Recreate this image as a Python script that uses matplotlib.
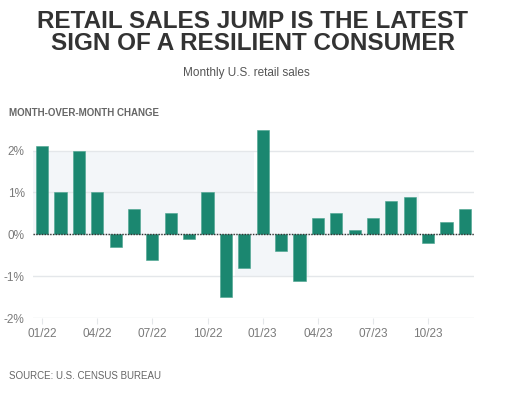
import numpy as np
import matplotlib.pyplot as plt

# monthly retail sales, month-over-month change (%)
months = ['01/22', '02/22', '03/22', '04/22', '05/22', '06/22', '07/22', '08/22',
          '09/22', '10/22', '11/22', '12/22', '01/23', '02/23', '03/23', '04/23',
          '05/23', '06/23', '07/23', '08/23', '09/23', '10/23', '11/23', '12/23']
change = [2.1, 1.0, 2.0, 1.0, -0.3, 0.6, -0.6, 0.5, -0.1, 1.0, -1.5, -0.8,
          2.5, -0.4, -1.1, 0.4, 0.5, 0.1, 0.4, 0.8, 0.9, -0.2, 0.3, 0.6]
tick_every = 3
yticks = [-2, -1, 0, 1, 2]
ytick_labels = ['-2%', '-1%', '0%', '1%', '2%']

# faint background bands (start month, end month, low, high)
bands = [(-0.5, 11.5, 0, 2), (10.5, 14.5, -1, 0), (11.5, 20.5, 0, 1)]

bar_color = '#1b8770'
grid_color = '#e4e7ea'
label_color = '#7a7a7a'

plt.rcParams['font.family'] = ['Liberation Sans', 'DejaVu Sans']

fig = plt.figure(figsize=(5.06, 3.93), dpi=100)
ax = fig.add_axes([0.065, 0.19, 0.872, 0.491])

x = np.arange(len(months))

for x0, x1, lo, hi in bands:
    ax.fill_between([x0, x1], lo, hi, color='#f3f6f9', lw=0, zorder=0)

for y in yticks:
    ax.axhline(y, color=grid_color, lw=1, zorder=1)

ax.bar(x, change, width=0.66, color=bar_color, edgecolor='#4aa48f', lw=0.4, zorder=2)
ax.axhline(0, color='#333333', lw=1, ls=(0, (1, 1)), zorder=3)

ax.set_xlim(-0.5, len(months) - 0.5)
ax.set_ylim(-2, 2.6)
ax.set_yticks(yticks)
ax.set_yticklabels(ytick_labels)
ax.set_xticks(x[::tick_every])
ax.set_xticklabels(months[::tick_every])

for s in ax.spines.values():
    s.set_visible(False)
ax.tick_params(axis='y', length=0, labelsize=8.5, labelcolor=label_color, pad=6)
ax.tick_params(axis='x', length=4, color=grid_color, labelsize=8.5,
               labelcolor=label_color, pad=3)

fig.text(0.5, 0.975, 'RETAIL SALES JUMP IS THE LATEST\nSIGN OF A RESILIENT CONSUMER',
         ha='center', va='top', fontsize=17.5, fontweight='bold', color='#333333',
         linespacing=0.95)
fig.text(0.487, 0.815, 'Monthly U.S. retail sales', ha='center', va='center',
         fontsize=8.5, color='#555555')
fig.text(0.018, 0.713, 'MONTH-OVER-MONTH CHANGE', ha='left', va='center',
         fontsize=7, fontweight='bold', color='#666666')
fig.text(0.018, 0.043, 'SOURCE: U.S. CENSUS BUREAU', ha='left', va='center',
         fontsize=7, color='#666666')

plt.savefig('out.png', dpi=100)
